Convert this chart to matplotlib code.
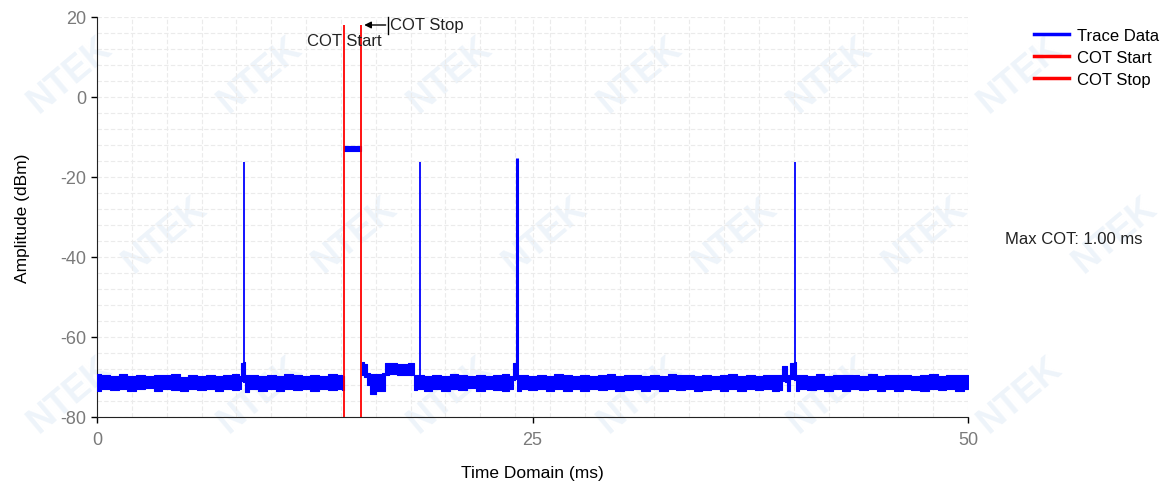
import matplotlib.pyplot as plt
import numpy as np

plt.rcParams['font.family'] = ['Liberation Sans', 'DejaVu Sans']
plt.rcParams['axes.unicode_minus'] = False

# trace envelope (ms, dBm)
t_pre = [0.0, 0.5, 1.0, 1.5, 2.0, 2.5, 3.0, 3.5, 4.0, 4.5, 5.0, 5.5, 6.0, 6.5, 7.0, 7.5, 8.0,
         8.25, 8.3, 8.45, 8.5, 9.0, 9.5, 10.0, 10.5, 11.0, 11.5, 12.0, 12.5, 13.0, 13.5, 14.0, 14.18]
hi_pre = [-69.3, -69.6, -69.8, -69.2, -69.7, -69.4, -69.8, -69.5, -69.6, -69.3, -69.9, -69.5,
          -69.7, -69.4, -69.8, -69.6, -69.3, -69.7, -66.5, -66.3, -69.6, -69.4, -69.8, -69.5,
          -69.7, -69.3, -69.6, -69.8, -69.4, -69.7, -69.3, -69.6, -69.8]
lo_pre = [-73.6, -73.0, -73.3, -72.9, -73.4, -73.1, -72.8, -73.5, -73.0, -73.2, -73.4, -72.9,
          -73.3, -73.0, -73.6, -72.9, -73.2, -73.0, -71.0, -71.2, -73.8, -73.1, -73.4, -73.0,
          -73.5, -72.9, -73.3, -73.1, -73.6, -73.0, -73.2, -72.9, -73.3]

t_cot = [14.18, 15.18]
hi_cot = [-12.2, -12.2]
lo_cot = [-13.6, -13.6]

t_post = [15.2, 15.45, 15.5, 15.8, 16.2, 16.5, 16.55, 17.0, 17.5, 18.2,
          18.25, 18.5, 19.0, 19.5, 20.0, 20.5, 21.0, 21.5, 22.0, 22.5,
          23.0, 23.5, 23.85, 23.9, 24.1, 24.15, 24.5, 25.0, 25.5, 26.0,
          26.5, 27.0, 27.5, 28.0, 28.5, 29.0, 29.5, 30.0, 30.5, 31.0,
          31.5, 32.0, 32.5, 33.0, 33.5, 34.0, 34.5, 35.0, 35.5, 36.0,
          36.5, 37.0, 37.5, 38.0, 38.5, 39.0, 39.3, 39.35, 39.6, 39.65,
          39.9, 40.1, 40.15, 40.5, 41.0, 41.5, 42.0, 42.5, 43.0, 43.5,
          44.0, 44.5, 45.0, 45.5, 46.0, 46.5, 47.0, 47.5, 48.0, 48.5,
          49.0, 49.5, 50.0]
hi_post = [-66.3, -66.8, -69.0, -69.2, -69.3, -69.1, -66.6, -66.4, -66.7, -66.5,
           -69.6, -69.5, -69.8, -69.4, -69.7, -69.3, -69.6, -69.8, -69.4, -69.7,
           -69.5, -69.3, -69.7, -66.5, -66.4, -69.6, -69.4, -69.8, -69.5, -69.7,
           -69.3, -69.6, -69.8, -69.4, -69.7, -69.5, -69.3, -69.8, -69.6, -69.4,
           -69.7, -69.5, -69.8, -69.3, -69.6, -69.4, -69.7, -69.5, -69.8, -69.6,
           -69.3, -69.7, -69.4, -69.8, -69.5, -69.6, -69.6, -67.3, -67.3, -69.5,
           -66.5, -66.3, -69.6, -69.4, -69.7, -69.3, -69.8, -69.5, -69.6, -69.4,
           -69.7, -69.3, -69.8, -69.5, -69.6, -69.4, -69.7, -69.5, -69.3, -69.8,
           -69.5, -69.6, -69.4]
lo_post = [-69.5, -70.0, -72.0, -74.2, -73.6, -73.4, -69.4, -69.2, -69.5, -69.4,
           -73.3, -73.0, -73.4, -72.9, -73.5, -73.1, -73.3, -72.8, -73.6, -73.0,
           -73.2, -73.4, -73.0, -70.8, -70.6, -73.6, -73.1, -73.3, -72.9, -73.5,
           -73.0, -73.4, -73.1, -73.6, -72.9, -73.3, -73.0, -73.5, -73.2, -72.9,
           -73.4, -73.1, -73.6, -73.0, -73.3, -72.9, -73.5, -73.2, -73.0, -73.4,
           -73.1, -73.6, -73.0, -73.3, -72.9, -73.5, -73.2, -71.0, -71.2, -73.4,
           -70.6, -70.8, -73.5, -73.0, -73.3, -72.9, -73.6, -73.1, -73.4, -73.0,
           -73.3, -72.9, -73.5, -73.1, -73.4, -73.0, -73.2, -73.6, -72.9, -73.3,
           -73.1, -73.4, -73.0]

# narrow pulses
spike_t = [8.44, 18.54, 24.11, 40.07]
spike_peak = [-16.3, -16.3, -15.3, -16.2]
spike_base = -70.0

cot_start = 14.18
cot_stop = 15.18
max_cot = 1.00

x_ticks = [0, 25, 50]
y_ticks = [-80, -60, -40, -20, 0, 20]

blue = '#0000ff'
red = '#ff0000'

fig = plt.figure(figsize=(11.73, 4.89), dpi=100)
ax = fig.add_axes([97 / 1173, 71 / 489, 871 / 1173, 400 / 489])
ax.set_facecolor('none')

# faint watermark tiles, kept inside the canvas
for row in range(3):
    for col in range(6):
        wx = (70 + 190 * col + (95 if row % 2 else 0)) / 1173
        wy = 1 - (75 + 160 * row) / 489
        fig.text(wx, wy, 'NTEK', rotation=40, fontsize=26, fontweight='bold',
                 color='#eef4fa', ha='center', va='center', zorder=-5)

ax.set_xlim(0, 50)
ax.set_ylim(-80, 20)
ax.set_xticks(np.arange(0, 50.1, 2), minor=True)
ax.set_yticks(np.arange(-80, 20.1, 4), minor=True)
ax.set_xticks(x_ticks)
ax.set_yticks(y_ticks)
ax.grid(which='both', color='#ebebeb', linestyle=(0, (4, 2)), linewidth=0.8)
ax.tick_params(which='minor', length=0)
ax.tick_params(which='major', direction='out', length=4, width=1, colors='black',
               labelcolor='#7a7a7a', labelsize=13)
ax.tick_params(axis='x', pad=6)
for s in ['top', 'right']:
    ax.spines[s].set_visible(False)
for s in ['left', 'bottom']:
    ax.spines[s].set_color('#222222')

for tt, hh, ll in [(t_pre, hi_pre, lo_pre), (t_cot, hi_cot, lo_cot), (t_post, hi_post, lo_post)]:
    ax.fill_between(tt, ll, hh, step='mid', color=blue, linewidth=0.8, edgecolor=blue, zorder=3)
ax.vlines(spike_t, spike_base, spike_peak, color=blue, linewidth=[1.3, 1.3, 2.2, 1.3], zorder=3)

ax.vlines([cot_start], -80, 18, color=red, linewidth=1.3, zorder=4)
ax.vlines([cot_stop], -80, 18, color=red, linewidth=1.3, zorder=4)

ax.text(cot_start, 14.0, 'COT Start', ha='center', va='center', fontsize=12, color='#222222', zorder=5)
ax.annotate('', xy=(cot_stop, 18), xytext=(cot_stop + 1.55, 18),
            arrowprops=dict(arrowstyle='-|>', color='black', lw=1, mutation_scale=10), zorder=5)
ax.plot([cot_stop + 1.55, cot_stop + 1.55], [15.8, 20], color='black', lw=1, clip_on=False, zorder=5)
ax.text(cot_stop + 1.65, 18, 'COT Stop', ha='left', va='center', fontsize=12, color='#222222', zorder=5)

ax.set_xlabel('Time Domain (ms)', fontsize=12.5, labelpad=12)
ax.set_ylabel('Amplitude (dBm)', fontsize=12.5, labelpad=22)

h1, = ax.plot([], [], color=blue, lw=2.5, label='Trace Data')
h2, = ax.plot([], [], color=red, lw=2.5, label='COT Start')
h3, = ax.plot([], [], color=red, lw=2.5, label='COT Stop')
fig.legend(handles=[h1, h2, h3], loc='upper left', bbox_to_anchor=(1027 / 1173, 1 - 22 / 489),
           frameon=False, fontsize=12, handlelength=2.1, labelspacing=0.42,
           handletextpad=0.5, borderaxespad=0)

fig.text(1005 / 1173, 1 - 240 / 489, 'Max COT: %.2f ms' % max_cot, fontsize=12,
         ha='left', va='center', color='#222222')

fig.savefig('out.png', dpi=100, facecolor='white')
